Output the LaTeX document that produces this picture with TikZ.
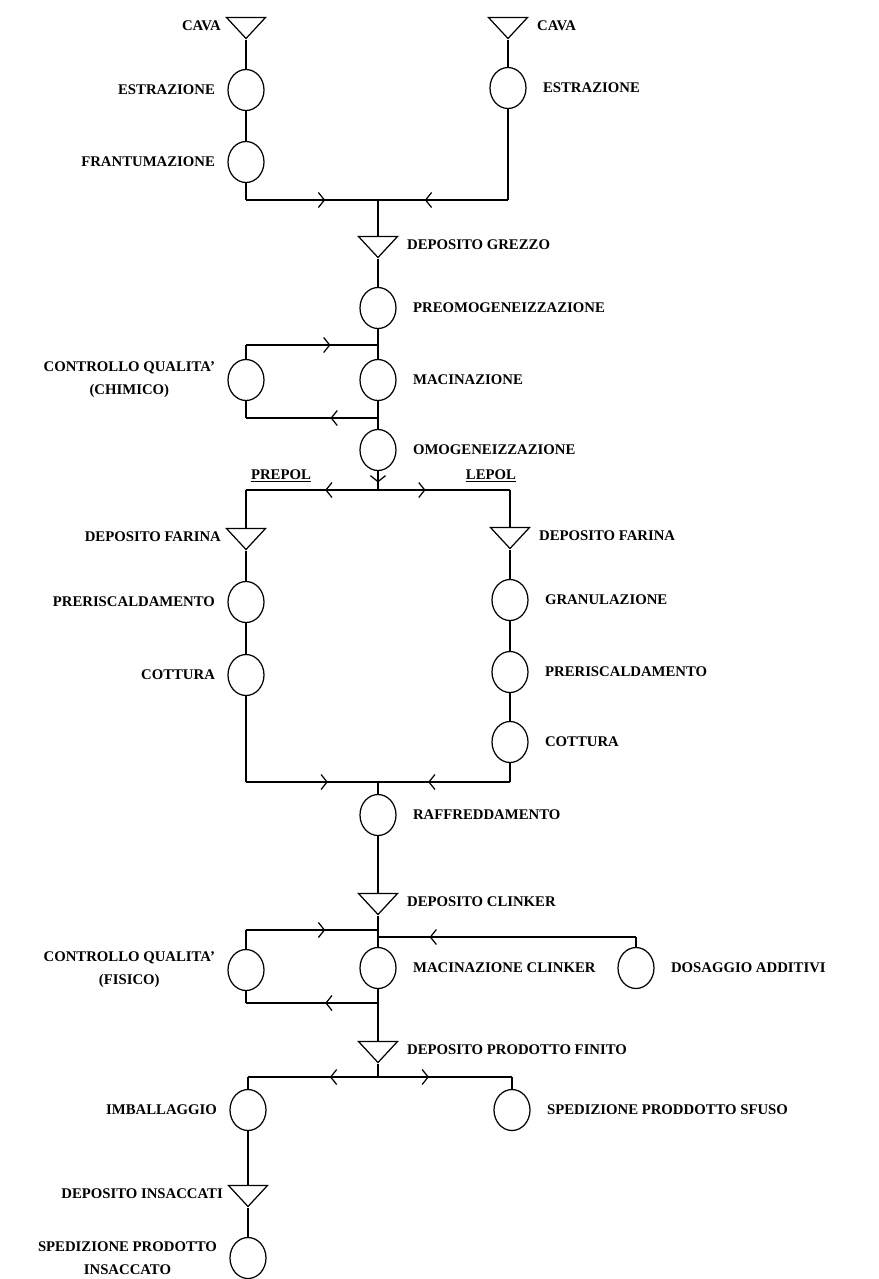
\documentclass[tikz,border=0pt]{standalone}
\usepackage{fontspec}
\setmainfont{Liberation Serif}
\usetikzlibrary{shapes.geometric,decorations.markings,arrows.meta}

\newcommand{\lblfont}{\bfseries\fontsize{8.4}{13}\selectfont}

\tikzset{
  proc/.style={ellipse,draw,line width=.7pt,minimum width=.72cm,minimum height=.82cm,inner sep=0pt},
  store/.style={isosceles triangle,draw,line width=.7pt,shape border rotate=-90,
    isosceles triangle stretches,minimum width=.78cm,minimum height=.42cm,inner sep=0pt},
  lbl/.style={font=\lblfont,align=center},
  rl/.style={label={[lbl,label distance=.2cm]right:{#1}}},
  ll/.style={label={[lbl,label distance=.12cm]left:{#1}}},
  flow/.style={postaction=decorate,decoration={markings,
    mark=at position #1 with {\arrow{Straight Barb[length=1.2mm,width=3mm]}}}},
  flow/.default=.55,
  every path/.style={line width=.7pt}
}

\begin{document}
\begin{tikzpicture}[x=.02cm,y=-.02cm]
  \useasboundingbox (0,0) rectangle (879,1279);
  % cave
  \node[store,ll=CAVA] (cavaA) at (246,26) {};
  \node[proc,ll=ESTRAZIONE] (estrA) at (246,90) {};
  \node[proc,ll=FRANTUMAZIONE] (frantA) at (246,162) {};
  \node[store,rl=CAVA] (cavaB) at (508,26) {};
  \node[proc,rl=ESTRAZIONE] (estrB) at (508,88) {};
  \coordinate (kA) at (246,200);
  \coordinate (jA) at (378,200);
  \coordinate (kB) at (508,200);
  \draw (cavaA) -- (estrA) -- (frantA) -- (kA);
  \draw[flow=.6] (kA) -- (jA);
  \draw (cavaB) -- (estrB) -- (kB);
  \draw[flow=.64] (kB) -- (jA);

  % crudo
  \node[store,rl=DEPOSITO GREZZO] (depGrezzo) at (378,245) {};
  \node[proc,rl=PREOMOGENEIZZAZIONE] (preomo) at (378,308) {};
  \node[proc,rl=MACINAZIONE] (macin) at (378,380) {};
  \node[proc,ll={CONTROLLO QUALITA'\\(CHIMICO)}] (ctrlC) at (246,380) {};
  \node[proc,rl=OMOGENEIZZAZIONE] (omog) at (378,450) {};
  \coordinate (jC1) at (378,345);
  \coordinate (kC1) at (246,345);
  \coordinate (jC2) at (378,418);
  \coordinate (kC2) at (246,418);
  \draw (jA) -- (depGrezzo) -- (preomo) -- (macin) -- (omog);
  \draw (ctrlC) -- (kC1);
  \draw[flow=.64] (kC1) -- (jC1);
  \draw[flow=.36] (jC2) -- (kC2);
  \draw (kC2) -- (ctrlC);

  % forni
  \coordinate (jS) at (378,490);
  \coordinate (kP) at (246,490);
  \coordinate (kL) at (510,490);
  \draw[flow=.6] (omog) -- (jS);
  \node[lbl] (prepol) at (281,476) {\underline{PREPOL}};
  \node[lbl] (lepol) at (491,476) {\underline{LEPOL}};
  \draw[flow=.4] (jS) -- (kP);
  \draw[flow=.36] (jS) -- (kL);
  \node[store,ll=DEPOSITO FARINA] (farinaP) at (246,537) {};
  \node[proc,ll=PRERISCALDAMENTO] (preriscP) at (246,602) {};
  \node[proc,ll=COTTURA] (cottP) at (246,675) {};
  \node[store,rl=DEPOSITO FARINA] (farinaL) at (510,536) {};
  \node[proc,rl=GRANULAZIONE] (granL) at (510,600) {};
  \node[proc,rl=PRERISCALDAMENTO] (preriscL) at (510,672) {};
  \node[proc,rl=COTTURA] (cottL) at (510,742) {};
  \coordinate (kP2) at (246,782);
  \coordinate (jR) at (378,782);
  \coordinate (kL2) at (510,782);
  \draw (kP) -- (farinaP) -- (preriscP) -- (cottP) -- (kP2);
  \draw[flow=.62] (kP2) -- (jR);
  \draw (kL) -- (farinaL) -- (granL) -- (preriscL) -- (cottL) -- (kL2);
  \draw[flow=.62] (kL2) -- (jR);

  % clinker e cemento
  \node[proc,rl=RAFFREDDAMENTO] (raffr) at (378,815) {};
  \node[store,rl=DEPOSITO CLINKER] (depClinker) at (378,902) {};
  \node[proc,rl=MACINAZIONE CLINKER] (macClinker) at (378,968) {};
  \node[proc,ll={CONTROLLO QUALITA'\\(FISICO)}] (ctrlF) at (246,970) {};
  \node[proc,rl=DOSAGGIO ADDITIVI] (dosag) at (636,968) {};
  \node[store,rl=DEPOSITO PRODOTTO FINITO] (depFinito) at (378,1050) {};
  \coordinate (jD1) at (378,930);
  \coordinate (kD1) at (246,930);
  \coordinate (jD3) at (378,937);
  \coordinate (kD3) at (636,937);
  \coordinate (jD2) at (378,1003);
  \coordinate (kD2) at (246,1003);
  \draw (jR) -- (raffr) -- (depClinker) -- (macClinker) -- (depFinito);
  \draw (ctrlF) -- (kD1);
  \draw[flow=.6] (kD1) -- (jD1);
  \draw (dosag) -- (kD3);
  \draw[flow=.8] (kD3) -- (jD3);
  \draw[flow=.4] (jD2) -- (kD2);
  \draw (kD2) -- (ctrlF);

  % spedizione
  \coordinate (jF) at (378,1077);
  \coordinate (kF1) at (248,1077);
  \coordinate (kF2) at (512,1077);
  \node[proc,ll=IMBALLAGGIO] (imball) at (248,1110) {};
  \node[proc,rl=SPEDIZIONE PRODDOTTO SFUSO] (spedSfuso) at (512,1110) {};
  \node[store,ll=DEPOSITO INSACCATI] (depInsacc) at (248,1194) {};
  \node[proc,ll={SPEDIZIONE PRODOTTO\\INSACCATO}] (spedInsacc) at (248,1258) {};
  \draw (depFinito) -- (jF);
  \draw[flow=.37] (jF) -- (kF1);
  \draw[flow=.38] (jF) -- (kF2);
  \draw (kF1) -- (imball) -- (depInsacc) -- (spedInsacc);
  \draw (kF2) -- (spedSfuso);
\end{tikzpicture}
\end{document}
